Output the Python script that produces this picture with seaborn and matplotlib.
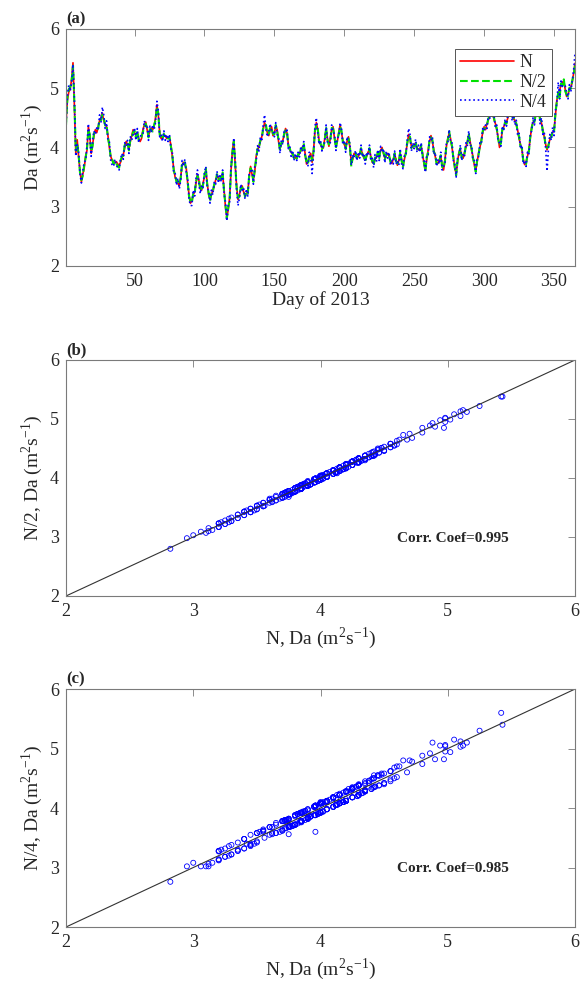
import numpy as np
import pandas as pd
import matplotlib
matplotlib.use("Agg")
import matplotlib.pyplot as plt
import seaborn as sns

# daily diffusivity Da (m2/s) for 2013
days = np.arange(1, 366)
da_n = [
    4.42, 4.80, 4.94, 4.98, 5.15, 5.43, 4.70, 3.90, 4.13, 3.85,
    3.60, 3.42, 3.55, 3.65, 3.85, 3.95, 4.35, 4.20, 3.90, 4.05,
    4.20, 4.30, 4.25, 4.35, 4.45, 4.50, 4.58, 4.45, 4.40, 4.35,
    4.20, 4.00, 3.85, 3.78, 3.76, 3.74, 3.76, 3.72, 3.70, 3.75,
    3.82, 3.88, 4.00, 4.10, 4.05, 3.98, 4.10, 4.20, 4.30, 4.25,
    4.20, 4.25, 4.15, 4.10, 4.15, 4.30, 4.38, 4.43, 4.30, 4.20,
    4.28, 4.33, 4.30, 4.35, 4.50, 4.72, 4.55, 4.25, 4.15, 4.17,
    4.20, 4.20, 4.15, 4.18, 4.15, 4.05, 3.85, 3.65, 3.50, 3.45,
    3.40, 3.35, 3.50, 3.70, 3.75, 3.72, 3.65, 3.40, 3.20, 3.06,
    3.10, 3.20, 3.25, 3.40, 3.55, 3.45, 3.30, 3.28, 3.40, 3.50,
    3.60, 3.40, 3.20, 3.12, 3.20, 3.28, 3.35, 3.45, 3.52, 3.48,
    3.45, 3.50, 3.55, 3.30, 3.00, 2.82, 2.95, 3.15, 3.60, 3.95,
    4.12, 3.70, 3.35, 3.12, 3.20, 3.30, 3.35, 3.25, 3.20, 3.22,
    3.25, 3.50, 3.68, 3.55, 3.45, 3.60, 3.85, 3.95, 4.02, 4.10,
    4.18, 4.30, 4.42, 4.35, 4.25, 4.20, 4.30, 4.35, 4.20, 4.25,
    4.35, 4.30, 4.10, 3.98, 4.05, 4.12, 4.20, 4.32, 4.25, 4.05,
    3.96, 3.92, 3.88, 3.85, 3.82, 3.84, 3.86, 3.90, 3.95, 4.00,
    4.04, 3.90, 3.72, 3.75, 3.85, 3.90, 3.75, 3.95, 4.25, 4.42,
    4.30, 4.12, 4.05, 4.00, 3.99, 4.15, 4.30, 4.15, 4.02, 4.15,
    4.30, 4.35, 4.15, 4.02, 4.10, 4.25, 4.38, 4.25, 4.12, 4.05,
    4.00, 4.10, 4.18, 4.00, 3.75, 3.80, 3.90, 3.88, 3.85, 3.84,
    3.90, 3.96, 3.90, 3.82, 3.79, 3.85, 3.92, 3.96, 3.85, 3.75,
    3.73, 3.80, 3.84, 3.90, 3.85, 3.95, 4.00, 3.90, 3.82, 3.86,
    3.90, 3.85, 3.78, 3.73, 3.80, 3.87, 3.80, 3.70, 3.78, 3.90,
    3.80, 3.70, 3.80, 3.92, 4.05, 4.22, 4.15, 4.02, 4.00, 4.05,
    4.07, 4.00, 3.96, 3.98, 4.01, 3.90, 3.72, 3.62, 3.80, 3.96,
    4.10, 4.20, 4.10, 3.96, 3.85, 3.75, 3.73, 3.80, 3.84, 3.70,
    3.62, 3.80, 4.01, 4.15, 4.24, 4.15, 4.00, 3.85, 3.65, 3.56,
    3.75, 3.92, 3.96, 3.85, 3.82, 3.92, 4.01, 4.10, 4.21, 4.10,
    3.96, 3.85, 3.70, 3.62, 3.75, 3.90, 4.00, 4.13, 4.25, 4.35,
    4.30, 4.40, 4.46, 4.55, 4.62, 4.58, 4.48, 4.41, 4.30, 4.18,
    4.00, 4.10, 4.28, 4.35, 4.40, 4.43, 4.50, 4.60, 4.65, 4.55,
    4.48, 4.46, 4.38, 4.29, 4.15, 4.05, 3.96, 3.80, 3.71, 3.75,
    3.85, 3.96, 4.15, 4.35, 4.42, 4.46, 4.55, 4.68, 4.60, 4.50,
    4.41, 4.30, 4.18, 4.05, 3.96, 4.05, 4.13, 4.20, 4.25, 4.29,
    4.55, 4.80, 4.88, 4.97, 5.05, 5.10, 5.12, 4.98, 4.86, 4.90,
    4.98, 5.02, 5.10, 5.25, 5.42,
]
da_n2 = [
    4.38, 4.85, 4.98, 5.02, 5.12, 5.38, 4.75, 3.95, 4.08, 3.88,
    3.58, 3.45, 3.52, 3.70, 3.82, 3.98, 4.30, 4.22, 3.93, 4.02,
    4.24, 4.27, 4.28, 4.32, 4.48, 4.46, 4.55, 4.50, 4.37, 4.38,
    4.16, 4.04, 3.82, 3.80, 3.72, 3.77, 3.73, 3.68, 3.66, 3.78,
    3.85, 3.86, 4.04, 4.07, 4.08, 3.95, 4.13, 4.17, 4.26, 4.28,
    4.17, 4.28, 4.12, 4.13, 4.18, 4.26, 4.35, 4.40, 4.33, 4.17,
    4.31, 4.30, 4.27, 4.38, 4.46, 4.68, 4.58, 4.22, 4.18, 4.14,
    4.23, 4.17, 4.18, 4.15, 4.18, 4.02, 3.88, 3.62, 3.53, 3.42,
    3.43, 3.38, 3.47, 3.73, 3.72, 3.75, 3.62, 3.43, 3.17, 3.09,
    3.07, 3.23, 3.22, 3.43, 3.52, 3.48, 3.27, 3.31, 3.37, 3.53,
    3.65, 3.37, 3.23, 3.10, 3.23, 3.25, 3.38, 3.42, 3.55, 3.45,
    3.48, 3.47, 3.58, 3.27, 3.03, 2.80, 2.98, 3.12, 3.63, 3.92,
    4.10, 3.73, 3.32, 3.15, 3.17, 3.33, 3.32, 3.28, 3.17, 3.25,
    3.22, 3.53, 3.65, 3.58, 3.42, 3.63, 3.82, 3.98, 3.99, 4.13,
    4.15, 4.33, 4.38, 4.38, 4.22, 4.23, 4.34, 4.32, 4.23, 4.22,
    4.38, 4.27, 4.13, 3.95, 4.08, 4.09, 4.23, 4.29, 4.28, 4.02,
    3.99, 3.89, 3.91, 3.82, 3.85, 3.81, 3.89, 3.87, 3.98, 3.97,
    4.07, 3.87, 3.75, 3.72, 3.88, 3.87, 3.78, 3.92, 4.28, 4.38,
    4.33, 4.09, 4.08, 3.97, 4.02, 4.12, 4.33, 4.12, 4.05, 4.12,
    4.33, 4.32, 4.18, 3.99, 4.13, 4.22, 4.35, 4.28, 4.09, 4.08,
    3.97, 4.13, 4.15, 4.03, 3.68, 3.83, 3.87, 3.91, 3.82, 3.87,
    3.87, 3.99, 3.87, 3.85, 3.76, 3.88, 3.89, 3.99, 3.82, 3.78,
    3.70, 3.83, 3.81, 3.93, 3.82, 3.98, 3.97, 3.93, 3.79, 3.89,
    3.87, 3.88, 3.75, 3.76, 3.77, 3.90, 3.77, 3.73, 3.75, 3.93,
    3.77, 3.67, 3.83, 3.89, 4.08, 4.19, 4.18, 3.99, 4.03, 4.02,
    4.10, 3.97, 3.99, 3.95, 4.04, 3.87, 3.75, 3.60, 3.83, 3.93,
    4.13, 4.17, 4.13, 3.93, 3.88, 3.72, 3.76, 3.77, 3.87, 3.67,
    3.65, 3.77, 4.04, 4.12, 4.27, 4.12, 4.03, 3.82, 3.68, 3.53,
    3.78, 3.89, 3.99, 3.82, 3.85, 3.89, 4.04, 4.07, 4.24, 4.07,
    3.99, 3.82, 3.73, 3.59, 3.78, 3.87, 4.03, 4.10, 4.28, 4.32,
    4.33, 4.37, 4.49, 4.52, 4.65, 4.55, 4.51, 4.38, 4.33, 4.15,
    4.03, 4.07, 4.31, 4.32, 4.43, 4.40, 4.53, 4.57, 4.73, 4.52,
    4.51, 4.43, 4.41, 4.26, 4.18, 4.02, 3.99, 3.77, 3.74, 3.72,
    3.88, 3.93, 4.18, 4.32, 4.45, 4.43, 4.58, 4.65, 4.63, 4.47,
    4.44, 4.27, 4.21, 4.02, 3.99, 4.02, 4.16, 4.17, 4.28, 4.26,
    4.58, 4.77, 4.93, 4.85, 5.08, 5.05, 5.15, 4.95, 4.89, 4.87,
    5.01, 4.99, 5.13, 5.22, 5.38,
]
da_n4 = [
    4.35, 4.88, 5.05, 4.95, 5.10, 5.40, 4.80, 3.85, 4.05, 3.92,
    3.55, 3.40, 3.60, 3.75, 3.78, 4.02, 4.40, 4.15, 3.85, 4.10,
    4.28, 4.22, 4.33, 4.30, 4.55, 4.42, 4.68, 4.55, 4.32, 4.45,
    4.12, 4.10, 3.78, 3.70, 3.68, 3.80, 3.70, 3.66, 3.62, 3.80,
    3.90, 3.80, 4.08, 4.02, 4.12, 3.90, 4.18, 4.12, 4.22, 4.33,
    4.12, 4.32, 4.08, 4.18, 4.22, 4.22, 4.45, 4.36, 4.38, 4.12,
    4.36, 4.25, 4.38, 4.30, 4.42, 4.78, 4.62, 4.18, 4.22, 4.10,
    4.28, 4.12, 4.22, 4.10, 4.22, 3.98, 3.92, 3.58, 3.58, 3.36,
    3.48, 3.30, 3.44, 3.78, 3.68, 3.80, 3.58, 3.48, 3.12, 3.02,
    3.02, 3.28, 3.18, 3.48, 3.62, 3.40, 3.22, 3.36, 3.32, 3.58,
    3.68, 3.32, 3.27, 3.06, 3.28, 3.20, 3.42, 3.38, 3.60, 3.40,
    3.55, 3.42, 3.62, 3.22, 3.08, 2.76, 3.02, 3.08, 3.68, 3.88,
    4.16, 3.78, 3.28, 3.02, 3.14, 3.38, 3.28, 3.32, 3.13, 3.30,
    3.18, 3.58, 3.60, 3.64, 3.38, 3.68, 3.76, 4.03, 3.94, 4.18,
    4.10, 4.38, 4.55, 4.30, 4.18, 4.28, 4.40, 4.28, 4.28, 4.18,
    4.42, 4.22, 4.18, 3.90, 4.12, 4.05, 4.27, 4.25, 4.32, 3.98,
    4.02, 3.85, 3.95, 3.78, 3.90, 3.78, 3.92, 3.84, 4.02, 3.93,
    4.10, 3.84, 3.78, 3.68, 3.92, 3.82, 3.56, 3.88, 4.35, 4.50,
    4.26, 4.05, 4.12, 3.94, 4.06, 4.08, 4.38, 4.08, 4.10, 4.08,
    4.38, 4.28, 4.22, 3.95, 4.16, 4.18, 4.42, 4.32, 4.05, 4.12,
    3.92, 4.18, 4.10, 4.08, 3.70, 3.88, 3.82, 3.95, 3.78, 3.92,
    3.82, 4.04, 3.84, 3.90, 3.72, 3.92, 3.86, 4.04, 3.78, 3.82,
    3.66, 3.88, 3.76, 3.96, 3.78, 4.02, 3.92, 3.98, 3.74, 3.94,
    3.82, 3.92, 3.70, 3.80, 3.72, 3.94, 3.72, 3.78, 3.70, 3.98,
    3.72, 3.64, 3.86, 3.86, 4.12, 4.32, 4.22, 3.94, 4.08, 3.98,
    4.14, 3.92, 4.04, 3.92, 4.08, 3.82, 3.80, 3.58, 3.88, 3.88,
    4.18, 4.12, 4.18, 3.88, 3.92, 3.68, 3.80, 3.72, 3.92, 3.62,
    3.68, 3.72, 4.08, 4.08, 4.30, 4.08, 4.08, 3.78, 3.72, 3.50,
    3.82, 3.86, 4.04, 3.78, 3.90, 3.86, 4.08, 4.02, 4.28, 4.02,
    4.04, 3.78, 3.78, 3.56, 3.82, 3.84, 4.08, 4.06, 4.32, 4.28,
    4.38, 4.32, 4.54, 4.48, 4.70, 4.50, 4.56, 4.34, 4.38, 4.10,
    4.08, 4.02, 4.36, 4.28, 4.48, 4.36, 4.58, 4.52, 4.80, 4.45,
    4.58, 4.38, 4.46, 4.20, 4.24, 3.98, 4.04, 3.72, 3.78, 3.68,
    3.92, 3.88, 4.22, 4.28, 4.50, 4.38, 4.62, 4.60, 4.70, 4.40,
    4.50, 4.22, 4.26, 3.98, 3.60, 3.98, 4.22, 4.12, 4.34, 4.20,
    4.62, 4.74, 5.10, 4.82, 5.15, 5.03, 5.05, 5.04, 4.92, 4.82,
    5.06, 4.94, 5.12, 5.30, 5.60,
]
corr_b = "0.995"
corr_c = "0.985"

assert len(da_n) == len(da_n2) == len(da_n4) == 365

df = pd.DataFrame({"day": days, "N": da_n, "N2": da_n2, "N4": da_n4})

sns.set_style("white")
plt.rcParams["font.family"] = ["Liberation Serif", "DejaVu Serif"]
plt.rcParams["mathtext.fontset"] = "custom"
plt.rcParams["mathtext.rm"] = "Liberation Serif"
plt.rcParams["axes.unicode_minus"] = False

unit = r"(m$^\mathregular{2}$s$^\mathregular{-1}$)"
spine_c = "#7a7a7a"
text_c = "#262626"

fig = plt.figure(figsize=(5.81, 9.92), dpi=100)
ax_a = fig.add_axes([0.1136, 0.7319, 0.8761, 0.2389])
ax_b = fig.add_axes([0.1136, 0.3992, 0.8761, 0.2379])
ax_c = fig.add_axes([0.1136, 0.0655, 0.8761, 0.2399])

def style(ax):
    for s in ax.spines.values():
        s.set_color(spine_c)
        s.set_linewidth(0.8)
    ax.tick_params(direction="in", length=5, width=0.6, colors=spine_c,
                   labelcolor=text_c, labelsize=13, top=True, right=True,
                   pad=5)

# (a) time series
sns.lineplot(data=df, x="day", y="N", ax=ax_a, color="#ff0000", lw=1.2,
             linestyle="-", label="N")
sns.lineplot(data=df, x="day", y="N2", ax=ax_a, color="#00e000", lw=1.5,
             linestyle="--", label="N/2")
sns.lineplot(data=df, x="day", y="N4", ax=ax_a, color="#0000ff", lw=1.2,
             linestyle=":", label="N/4")
ax_a.set_xlim(1, 365)
ax_a.set_ylim(2, 6)
ax_a.set_xticks([50, 100, 150, 200, 250, 300, 350])
ax_a.set_yticks([2, 3, 4, 5, 6])
ax_a.set_xlabel("Day of 2013", fontsize=14, color=text_c, labelpad=1)
ax_a.set_ylabel("Da " + unit, fontsize=14, color=text_c)
leg = ax_a.legend(loc="upper right", bbox_to_anchor=(0.955, 0.916),
                  borderaxespad=0, fontsize=13, handlelength=3.0,
                  handletextpad=0.3, labelspacing=0.15, borderpad=0.3,
                  fancybox=False, framealpha=1)
leg.get_frame().set_edgecolor("#555555")
leg.get_frame().set_linewidth(0.7)
style(ax_a)
ax_a.text(0.0, 1.005, "(a)", transform=ax_a.transAxes, fontsize=12,
          fontweight="bold", ha="left", va="bottom")

# (b), (c) scatter against N
for ax, col, name, cc, tag in [(ax_b, "N2", "N/2", corr_b, "(b)"),
                               (ax_c, "N4", "N/4", corr_c, "(c)")]:
    ax.axline((0, 0), slope=1, color="#333333", lw=0.8)
    sns.scatterplot(data=df, x="N", y=col, ax=ax, marker="o", s=13,
                    facecolor="none", edgecolor="#0000ff", linewidth=0.6)
    ax.set_xlim(2, 6)
    ax.set_ylim(2, 6)
    ax.set_xticks([2, 3, 4, 5, 6])
    ax.set_yticks([2, 3, 4, 5, 6])
    ax.set_xlabel("N, Da " + unit, fontsize=14, color=text_c)
    ax.set_ylabel(name + ", Da " + unit, fontsize=14, color=text_c)
    style(ax)
    ax.text(0.76, 0.245, "Corr. Coef=" + cc, transform=ax.transAxes,
            fontsize=11, fontweight="bold", ha="center", va="center")
    ax.text(0.0, 1.005, tag, transform=ax.transAxes, fontsize=12,
            fontweight="bold", ha="left", va="bottom")

fig.savefig("out.png", dpi=100)
